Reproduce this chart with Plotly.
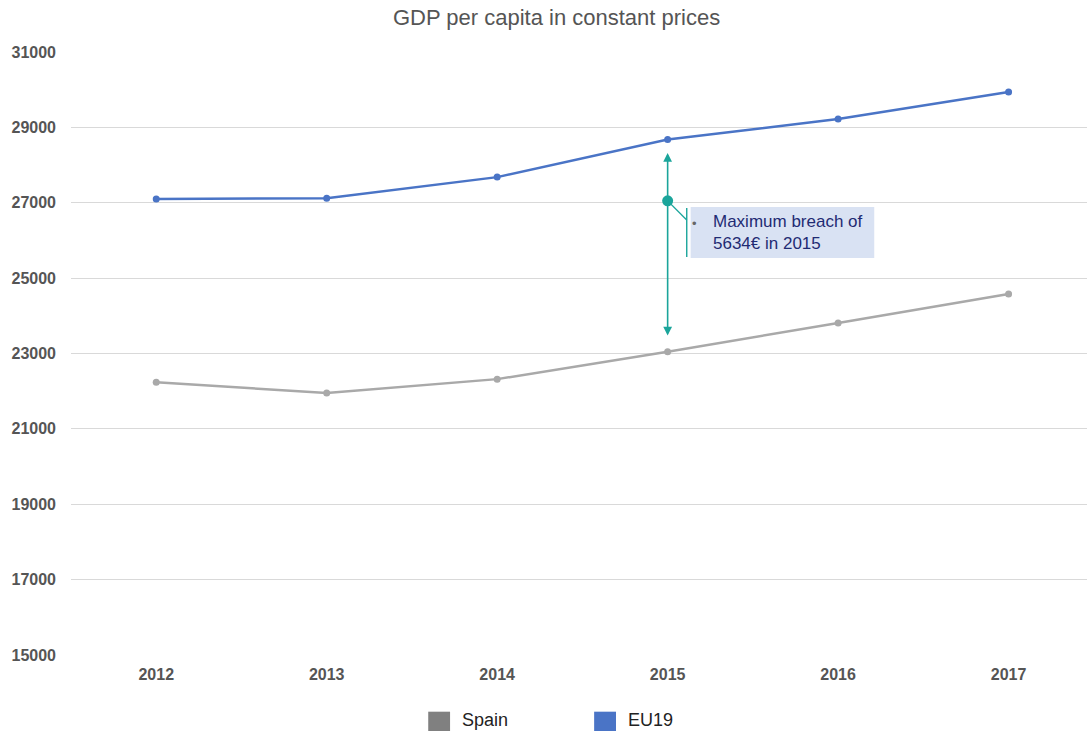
import plotly.graph_objects as go

years = ["2012", "2013", "2014", "2015", "2016", "2017"]
spain = [22240, 21950, 22320, 23046, 23810, 24580]
eu19 = [27100, 27120, 27680, 28680, 29220, 29940]
y_ticks = [15000, 17000, 19000, 21000, 23000, 25000, 27000, 29000, 31000]

SPAIN_LINE = "#a9a9a9"
SPAIN_KEY = "#808080"
EU_COLOR = "#4a74c6"
TEAL = "#1ba59b"
FONT = "Arial, Liberation Sans, sans-serif"

breach_idx = years.index("2015")
breach = eu19[breach_idx] - spain[breach_idx]

fig = go.Figure()
fig.add_trace(go.Scatter(
    x=years, y=spain, mode="lines+markers", name="Spain",
    line=dict(color=SPAIN_LINE, width=2.5), marker=dict(color=SPAIN_LINE, size=7),
    showlegend=False))
fig.add_trace(go.Scatter(
    x=years, y=eu19, mode="lines+markers", name="EU19",
    line=dict(color=EU_COLOR, width=2.5), marker=dict(color=EU_COLOR, size=7),
    showlegend=False))

# teal marker between the two series at 2015
fig.add_trace(go.Scatter(
    x=[years[breach_idx]], y=[27050], mode="markers",
    marker=dict(color=TEAL, size=11), showlegend=False, hoverinfo="skip"))

# double-headed arrow spanning the gap
top = eu19[breach_idx] - 360
bottom = spain[breach_idx] + 390
fig.add_annotation(x=breach_idx, y=top, ax=breach_idx, ay=bottom,
                   xref="x", yref="y", axref="x", ayref="y", text="",
                   showarrow=True, arrowhead=2, startarrowhead=2, arrowside="end+start",
                   arrowsize=1.1, arrowwidth=1.6, arrowcolor=TEAL)

# callout box
fig.add_shape(type="rect", x0=3.135, x1=4.212, y0=25534, y1=26888,
              xref="x", yref="y", fillcolor="#d9e2f3", line=dict(width=0), layer="below")
fig.add_shape(type="line", x0=3.0, y0=27050, x1=3.112, y1=26543,
              xref="x", yref="y", line=dict(color=TEAL, width=1.4))
fig.add_shape(type="line", x0=3.112, y0=26862, x1=3.112, y1=25560,
              xref="x", yref="y", line=dict(color=TEAL, width=1.4))
fig.add_annotation(x=3.158, y=26450, xref="x", yref="y", text="•",
                   showarrow=False, font=dict(family=FONT, size=13, color="#666666"))
fig.add_annotation(x=3.252, y=26200, xref="x", yref="y", xanchor="left", yanchor="middle",
                   align="left", showarrow=False,
                   text=f"Maximum breach of<br>{breach}€ in 2015",
                   font=dict(family=FONT, size=17, color="#1f2b73"))

# legend keys
for x0, color, label in [(0.3516, SPAIN_KEY, "Spain"), (0.5149, EU_COLOR, "EU19")]:
    fig.add_shape(type="rect", xref="paper", yref="paper",
                  x0=x0, x1=x0 + 0.0215, y0=-0.094, y1=-0.128,
                  fillcolor=color, line=dict(width=0))
    fig.add_annotation(xref="paper", yref="paper", x=x0 + 0.031, y=-0.108,
                       xanchor="left", yanchor="middle", showarrow=False, text=label,
                       font=dict(family=FONT, size=18, color="#222222"))

fig.update_layout(
    width=1087, height=731,
    margin=dict(l=71, r=0, t=52, b=76),
    paper_bgcolor="white", plot_bgcolor="white",
    title=dict(text="GDP per capita in constant prices", x=0.512, xanchor="center",
               y=0.976, yanchor="middle",
               font=dict(family=FONT, size=22, color="#555555")),
    font=dict(family=FONT),
    xaxis=dict(type="category", range=[-0.5, 5.46], showgrid=False, zeroline=False,
               showline=False, ticks="", tickfont=dict(family=FONT, size=16, color="#555555",
                                                       weight="bold"),
               ticklabelstandoff=8),
    yaxis=dict(range=[15000, 31000], tickvals=y_ticks, ticktext=[str(v) for v in y_ticks],
               showgrid=True, gridcolor="#d9d9d9", gridwidth=1, zeroline=False,
               showline=False, ticks="", ticklabelstandoff=14,
               tickfont=dict(family=FONT, size=16, color="#555555", weight="bold")),
    showlegend=False,
)

fig.write_html("out.html")
